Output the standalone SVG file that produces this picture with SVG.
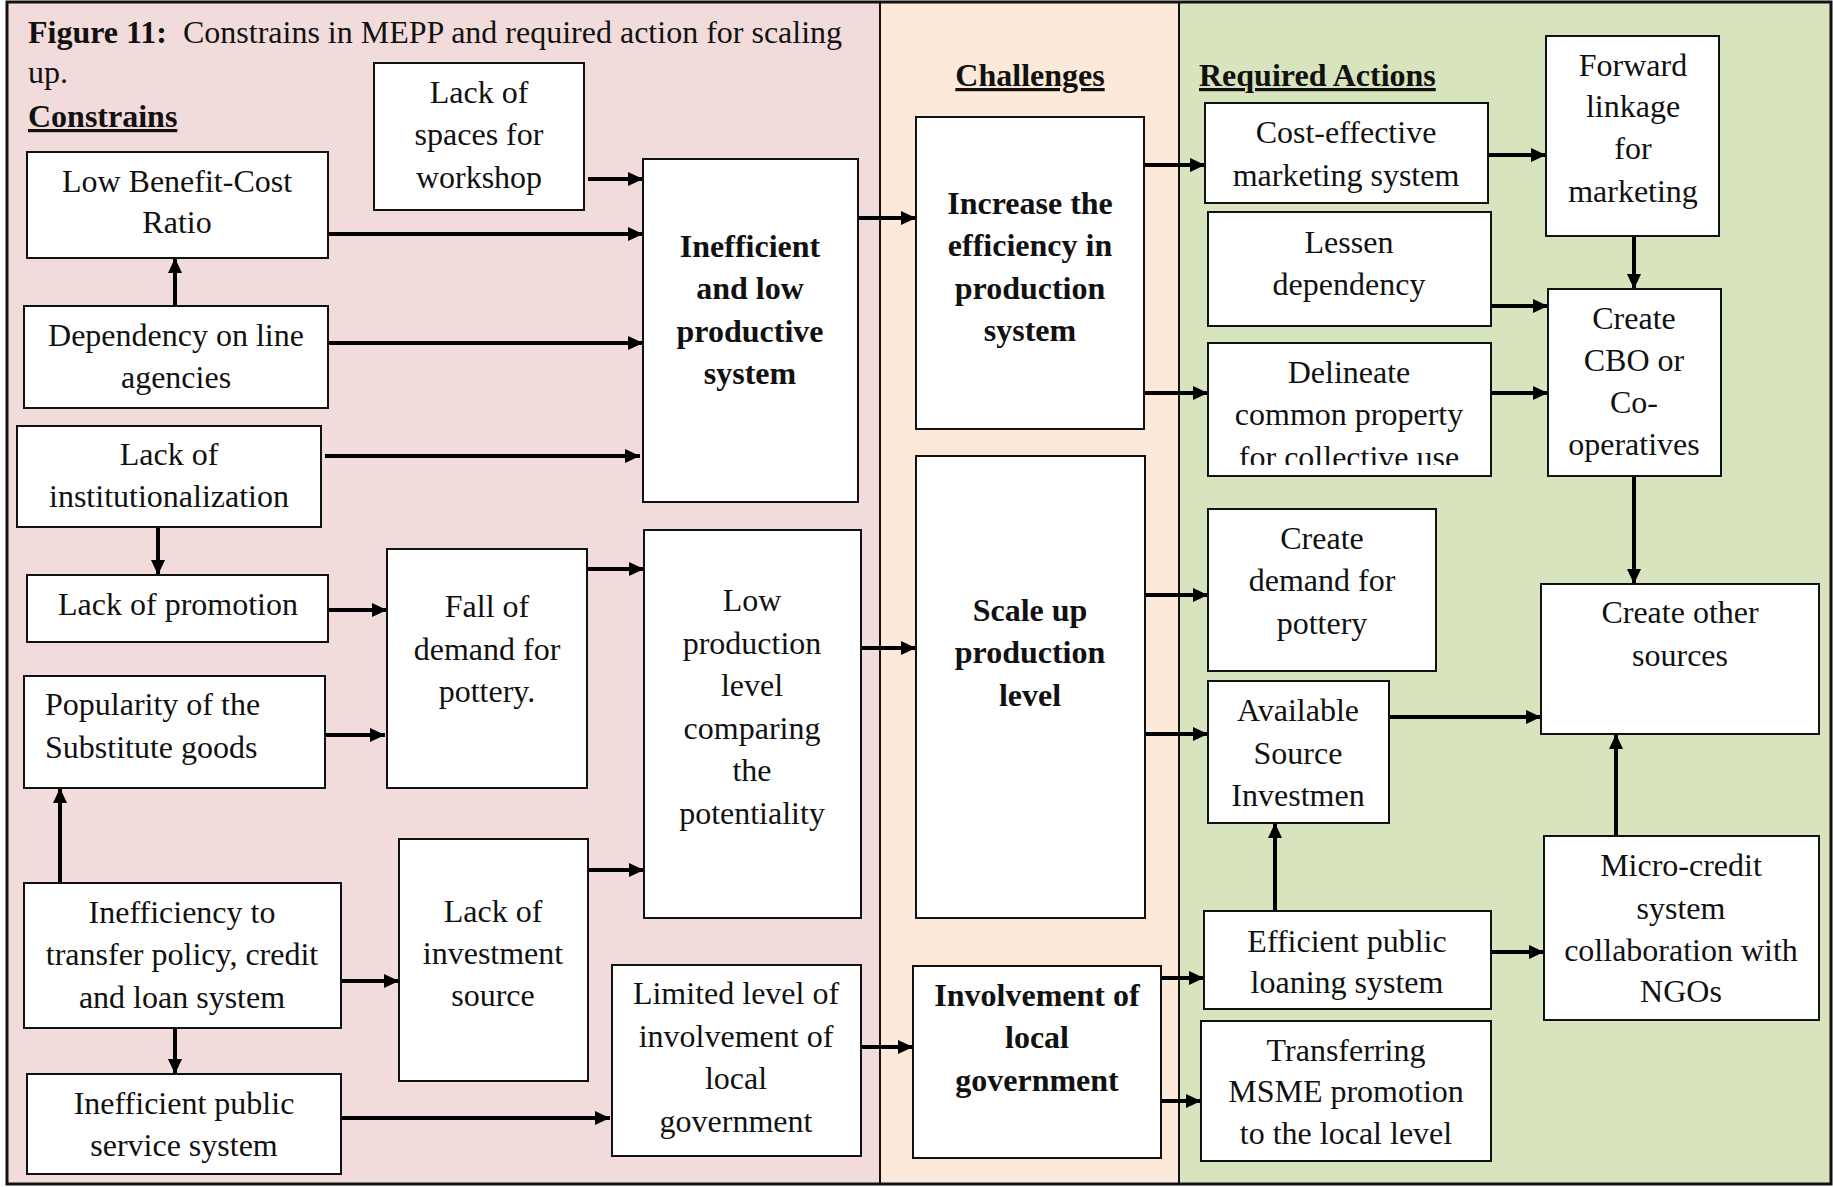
<svg xmlns="http://www.w3.org/2000/svg" width="1833" height="1187" viewBox="0 0 1833 1187">
<style>
.box{fill:#fff;stroke:#111;stroke-width:2}
.t{font-family:"Liberation Serif","Times New Roman",serif;font-size:32px;fill:#111;text-anchor:middle}
.b{font-weight:bold}
.l{text-anchor:start}
.u{text-decoration:underline}
.c{stroke:#000;stroke-width:4;fill:none;marker-end:url(#ah)}
</style>
<defs>
<marker id="ah" markerUnits="userSpaceOnUse" markerWidth="16" markerHeight="16" refX="15" refY="7" orient="auto">
<path d="M0,0 L15,7 L0,14 z" fill="#000"/>
</marker>
<clipPath id="clipDel"><rect x="1208" y="343" width="283" height="122"/></clipPath>
</defs>

<g id="background">
<rect x="7" y="2" width="873" height="1182" fill="#F2DCDB"/>
<rect x="880" y="2" width="299" height="1182" fill="#FDE9D9"/>
<rect x="1179" y="2" width="652" height="1182" fill="#D7E4BD"/>
<line x1="880" y1="2" x2="880" y2="1184" stroke="#111" stroke-width="2"/>
<line x1="1179" y1="2" x2="1179" y2="1184" stroke="#111" stroke-width="2"/>
<rect x="7" y="2" width="1824" height="1182" fill="none" stroke="#111" stroke-width="3"/>
</g>

<g id="headings">
<text class="t l" x="28" y="43" xml:space="preserve"><tspan class="b">Figure 11:</tspan>  Constrains in MEPP and required action for scaling</text>
<text class="t l" x="28" y="83">up.</text>
<text class="t l b u" x="28" y="127">Constrains</text>
<text class="t b u" x="1030" y="86">Challenges</text>
<text class="t l b u" x="1199" y="86">Required Actions</text>
</g>

<g id="connectors">
<line class="c" x1="588" y1="179" x2="643" y2="179"/>
<line class="c" x1="328" y1="234" x2="643" y2="234"/>
<line class="c" x1="328" y1="343" x2="643" y2="343"/>
<line class="c" x1="325" y1="456" x2="640" y2="456"/>
<line class="c" x1="175" y1="306" x2="175" y2="258"/>
<line class="c" x1="158" y1="527" x2="158" y2="575"/>
<line class="c" x1="328" y1="610" x2="387" y2="610"/>
<line class="c" x1="325" y1="735" x2="385" y2="735"/>
<line class="c" x1="60" y1="883" x2="60" y2="788"/>
<line class="c" x1="341" y1="981" x2="399" y2="981"/>
<line class="c" x1="175" y1="1028" x2="175" y2="1074"/>
<line class="c" x1="587" y1="569" x2="644" y2="569"/>
<line class="c" x1="588" y1="870" x2="644" y2="870"/>
<line class="c" x1="341" y1="1118" x2="610" y2="1118"/>
<line class="c" x1="858" y1="218" x2="916" y2="218"/>
<line class="c" x1="861" y1="648" x2="916" y2="648"/>
<line class="c" x1="861" y1="1047" x2="913" y2="1047"/>
<line class="c" x1="1140" y1="165" x2="1205" y2="165"/>
<line class="c" x1="1144" y1="393" x2="1208" y2="393"/>
<line class="c" x1="1488" y1="155" x2="1546" y2="155"/>
<line class="c" x1="1634" y1="236" x2="1634" y2="289"/>
<line class="c" x1="1491" y1="306" x2="1548" y2="306"/>
<line class="c" x1="1491" y1="393" x2="1548" y2="393"/>
<line class="c" x1="1634" y1="476" x2="1634" y2="584"/>
<line class="c" x1="1145" y1="595" x2="1208" y2="595"/>
<line class="c" x1="1145" y1="734" x2="1208" y2="734"/>
<line class="c" x1="1389" y1="717" x2="1541" y2="717"/>
<line class="c" x1="1616" y1="836" x2="1616" y2="734"/>
<line class="c" x1="1275" y1="911" x2="1275" y2="823"/>
<line class="c" x1="1491" y1="952" x2="1544" y2="952"/>
<line class="c" x1="1160" y1="978" x2="1204" y2="978"/>
<line class="c" x1="1160" y1="1101" x2="1201" y2="1101"/>
</g>

<g id="workshop"><rect class="box" x="374" y="63" width="210" height="147"/>
<text class="t" x="479" y="103">Lack of</text><text class="t" x="479" y="145">spaces for</text><text class="t" x="479" y="188">workshop</text></g>

<g id="lowBenefit"><rect class="box" x="27" y="152" width="301" height="106"/>
<text class="t" x="177" y="192">Low Benefit-Cost</text><text class="t" x="177" y="233">Ratio</text></g>

<g id="dependency"><rect class="box" x="24" y="306" width="304" height="102"/>
<text class="t" x="176" y="346">Dependency on line</text><text class="t" x="176" y="388">agencies</text></g>

<g id="lackInst"><rect class="box" x="17" y="426" width="304" height="101"/>
<text class="t" x="169" y="465">Lack of</text><text class="t" x="169" y="507">institutionalization</text></g>

<g id="lackPromo"><rect class="box" x="27" y="575" width="301" height="67"/>
<text class="t" x="178" y="615">Lack of promotion</text></g>

<g id="fallDemand"><rect class="box" x="387" y="549" width="200" height="239"/>
<text class="t" x="487" y="617">Fall of</text><text class="t" x="487" y="660">demand for</text><text class="t" x="487" y="702">pottery.</text></g>

<g id="popularity"><rect class="box" x="24" y="676" width="301" height="112"/>
<text class="t l" x="45" y="715">Popularity of the</text><text class="t l" x="45" y="758">Substitute goods</text></g>

<g id="ineffTransfer"><rect class="box" x="24" y="883" width="317" height="145"/>
<text class="t" x="182" y="923">Inefficiency to</text><text class="t" x="182" y="965">transfer policy, credit</text><text class="t" x="182" y="1008">and loan system</text></g>

<g id="lackInvest"><rect class="box" x="399" y="839" width="189" height="242"/>
<text class="t" x="493" y="922">Lack of</text><text class="t" x="493" y="964">investment</text><text class="t" x="493" y="1006">source</text></g>

<g id="publicService"><rect class="box" x="27" y="1074" width="314" height="100"/>
<text class="t" x="184" y="1114">Inefficient public</text><text class="t" x="184" y="1156">service system</text></g>

<g id="inefficient"><rect class="box" x="643" y="159" width="215" height="343"/>
<text class="t b" x="750" y="257">Inefficient</text><text class="t b" x="750" y="299">and low</text><text class="t b" x="750" y="342">productive</text><text class="t b" x="750" y="384">system</text></g>

<g id="lowProduction"><rect class="box" x="644" y="530" width="217" height="388"/>
<text class="t" x="752" y="611">Low</text><text class="t" x="752" y="654">production</text><text class="t" x="752" y="696">level</text><text class="t" x="752" y="739">comparing</text><text class="t" x="752" y="781">the</text><text class="t" x="752" y="824">potentiality</text></g>

<g id="limited"><rect class="box" x="612" y="965" width="249" height="191"/>
<text class="t" x="736" y="1004">Limited level of</text><text class="t" x="736" y="1047">involvement of</text><text class="t" x="736" y="1089">local</text><text class="t" x="736" y="1132">government</text></g>

<g id="increase"><rect class="box" x="916" y="117" width="228" height="312"/>
<text class="t b" x="1030" y="214">Increase the</text><text class="t b" x="1030" y="256">efficiency in</text><text class="t b" x="1030" y="299">production</text><text class="t b" x="1030" y="341">system</text></g>

<g id="scaleUp"><rect class="box" x="916" y="456" width="229" height="462"/>
<text class="t b" x="1030" y="621">Scale up</text><text class="t b" x="1030" y="663">production</text><text class="t b" x="1030" y="706">level</text></g>

<g id="involvement"><rect class="box" x="913" y="966" width="248" height="192"/>
<text class="t b" x="1037" y="1006">Involvement of</text><text class="t b" x="1037" y="1048">local</text><text class="t b" x="1037" y="1091">government</text></g>

<g id="costEffective"><rect class="box" x="1205" y="103" width="283" height="100"/>
<text class="t" x="1346" y="143">Cost-effective</text><text class="t" x="1346" y="186">marketing system</text></g>

<g id="lessen"><rect class="box" x="1208" y="212" width="283" height="114"/>
<text class="t" x="1349" y="253">Lessen</text><text class="t" x="1349" y="295">dependency</text></g>

<g id="delineate"><rect class="box" x="1208" y="343" width="283" height="133"/>
<g clip-path="url(#clipDel)"><text class="t" x="1349" y="383">Delineate</text><text class="t" x="1349" y="425">common property</text><text class="t" x="1349" y="468">for collective use</text></g></g>

<g id="createDemand"><rect class="box" x="1208" y="509" width="228" height="162"/>
<text class="t" x="1322" y="549">Create</text><text class="t" x="1322" y="591">demand for</text><text class="t" x="1322" y="634">pottery</text></g>

<g id="available"><rect class="box" x="1208" y="681" width="181" height="142"/>
<text class="t" x="1298" y="721">Available</text><text class="t" x="1298" y="764">Source</text><text class="t" x="1298" y="806">Investmen</text></g>

<g id="efficientLoan"><rect class="box" x="1204" y="911" width="287" height="98"/>
<text class="t" x="1347" y="952">Efficient public</text><text class="t" x="1347" y="993">loaning system</text></g>

<g id="transferring"><rect class="box" x="1201" y="1021" width="290" height="140"/>
<text class="t" x="1346" y="1061">Transferring</text><text class="t" x="1346" y="1102">MSME promotion</text><text class="t" x="1346" y="1144">to the local level</text></g>

<g id="forward"><rect class="box" x="1546" y="36" width="173" height="200"/>
<text class="t" x="1633" y="76">Forward</text><text class="t" x="1633" y="117">linkage</text><text class="t" x="1633" y="159">for</text><text class="t" x="1633" y="202">marketing</text></g>

<g id="cbo"><rect class="box" x="1548" y="289" width="173" height="187"/>
<text class="t" x="1634" y="329">Create</text><text class="t" x="1634" y="371">CBO or</text><text class="t" x="1634" y="413">Co-</text><text class="t" x="1634" y="455">operatives</text></g>

<g id="createOther"><rect class="box" x="1541" y="584" width="278" height="150"/>
<text class="t" x="1680" y="623">Create other</text><text class="t" x="1680" y="666">sources</text></g>

<g id="microCredit"><rect class="box" x="1544" y="836" width="275" height="184"/>
<text class="t" x="1681" y="876">Micro-credit</text><text class="t" x="1681" y="919">system</text><text class="t" x="1681" y="961">collaboration with</text><text class="t" x="1681" y="1002">NGOs</text></g>
</svg>
